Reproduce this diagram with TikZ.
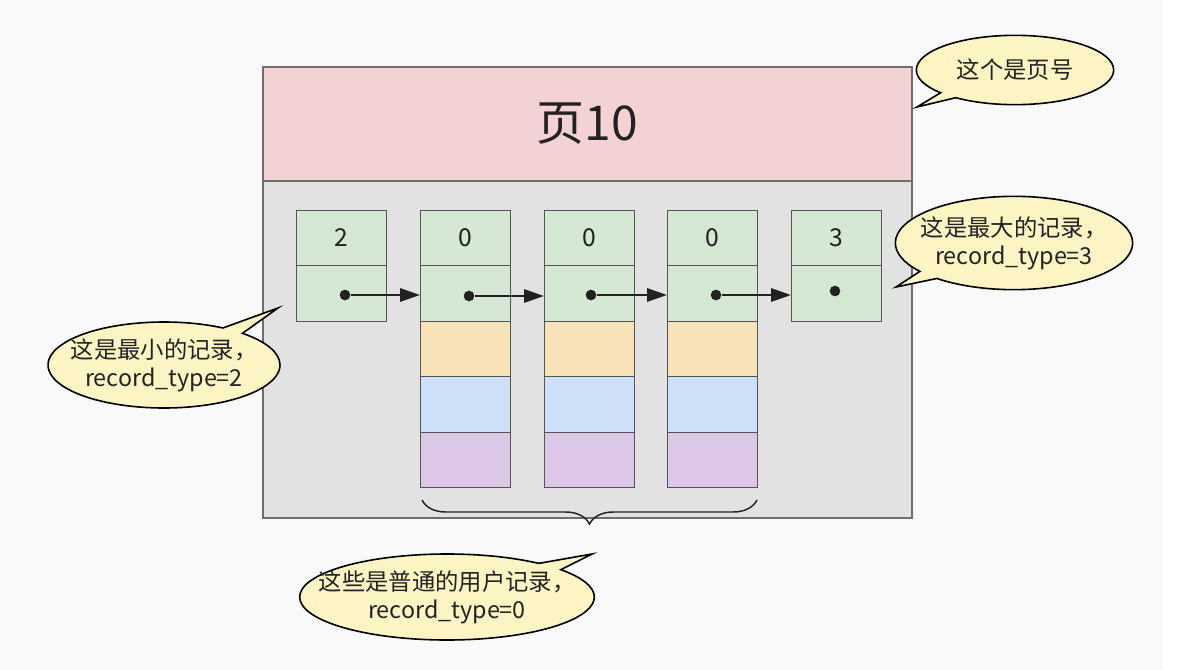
\documentclass[tikz,border=0pt]{standalone}
\usepackage{fontspec}
\setmainfont{Noto Sans CJK SC}
\usetikzlibrary{positioning,arrows.meta,shapes.callouts,decorations.pathreplacing}

\definecolor{bgcol}{HTML}{F9F9FA}
\definecolor{headcol}{HTML}{F3D2D3}
\definecolor{bodycol}{HTML}{E2E2E2}
\definecolor{framecol}{HTML}{6E6E6E}
\definecolor{cellline}{HTML}{555555}
\definecolor{reccol}{HTML}{D5E8D4}
\definecolor{orgcol}{HTML}{F8E2B8}
\definecolor{bluecol}{HTML}{CDE0F8}
\definecolor{purcol}{HTML}{DCC8E6}
\definecolor{notecol}{HTML}{FDF4C4}
\definecolor{inkcol}{HTML}{222222}

\begin{document}
\begin{tikzpicture}[
    x=0.75pt, y=-0.75pt,
    page/.style={draw=framecol, line width=0.9pt, minimum width=486.75pt, inner sep=0pt, outer sep=0pt},
    cell/.style={draw=cellline, line width=0.7pt, minimum width=67.5pt, minimum height=41.6pt,
      inner sep=0pt, outer sep=0pt, text=inkcol, font=\fontsize{18.5}{20}\selectfont},
    dot/.style={circle, fill=inkcol, inner sep=0pt, minimum size=8pt},
    arr/.style={-{Triangle[length=15pt, width=10pt]}, line width=1.5pt, draw=inkcol},
    bubble/.style={ellipse callout, draw=black, line width=1.2pt, fill=notecol, inner sep=0pt,
      callout pointer arc=12},
    note/.style={align=center, text=inkcol, font=\fontsize{17.5}{21}\selectfont}
  ]
  % background
  \fill[bgcol] (0,0) rectangle (1163,670);
  \fill[white] (1163,0) rectangle (1187,670);
  \useasboundingbox (0,0) rectangle (1187,670);

  % page frame
  \node[page, fill=headcol, minimum height=85.5pt, text=inkcol, font=\fontsize{36}{40}\selectfont] (hdr) at (587.5,124) {页10};
  \node[page, fill=bodycol, minimum height=252.75pt] (body) at (587.5,349.5) {};

  % infimum / supremum
  \node[cell, fill=reccol] (r1-a) at (341,238) {2};
  \node[cell, fill=reccol, below=0pt of r1-a] (r1-b) {};
  \node[cell, fill=reccol] (r5-a) at (836,238) {3};
  \node[cell, fill=reccol, below=0pt of r5-a] (r5-b) {};

  % user records
  \foreach \n/\x in {2/465, 3/589, 4/712} {
    \node[cell, fill=reccol] (r\n-a) at (\x,238) {0};
    \node[cell, fill=reccol, below=0pt of r\n-a] (r\n-b) {};
    \node[cell, fill=orgcol, below=0pt of r\n-b] (r\n-c) {};
    \node[cell, fill=bluecol, below=0pt of r\n-c] (r\n-d) {};
    \node[cell, fill=purcol, below=0pt of r\n-d] (r\n-e) {};
  }

  % next_record pointers
  \node[dot] (d1) at (345,295) {};
  \node[dot] (d2) at (469,296) {};
  \node[dot] (d3) at (591,295) {};
  \node[dot] (d4) at (716,295) {};
  \node[dot] (d5) at (835,291) {};
  \draw[arr] (d1) -- (d1 -| r2-b.west);
  \draw[arr] (d2) -- (d2 -| r3-b.west);
  \draw[arr] (d3) -- (d3 -| r4-b.west);
  \draw[arr] (d4) -- (d4 -| r5-b.west);

  % brace under the user records
  \coordinate (brL) at (422,500);
  \coordinate (brR) at (757,500);
  \draw[draw=inkcol, line width=1.1pt, decorate, decoration={brace, mirror, amplitude=18pt}] (brL) -- (brR);

  % notes
  \coordinate (tipA) at (917,107);
  \coordinate (tipB) at (896,287);
  \coordinate (tipC) at (278,308);
  \coordinate (tipD) at (592,554);
  \node[bubble, minimum width=148pt, minimum height=52pt, callout absolute pointer={(tipA)}] (nA) at (1015,70) {};
  \node[note] at (nA.center) {这个是页号};
  \node[bubble, minimum width=178pt, minimum height=70pt, callout absolute pointer={(tipB)}] (nB) at (1014,243) {};
  \node[note] at (nB.center) {这是最大的记录，\\record\_type=3};
  \node[bubble, minimum width=174pt, minimum height=64.5pt, callout absolute pointer={(tipC)}] (nC) at (164,365) {};
  \node[note] at (nC.center) {这是最小的记录，\\record\_type=2};
  \node[bubble, minimum width=221pt, minimum height=64.5pt, callout absolute pointer={(tipD)}] (nD) at (447,597) {};
  \node[note] at (nD.center) {这些是普通的用户记录，\\record\_type=0};
\end{tikzpicture}
\end{document}
